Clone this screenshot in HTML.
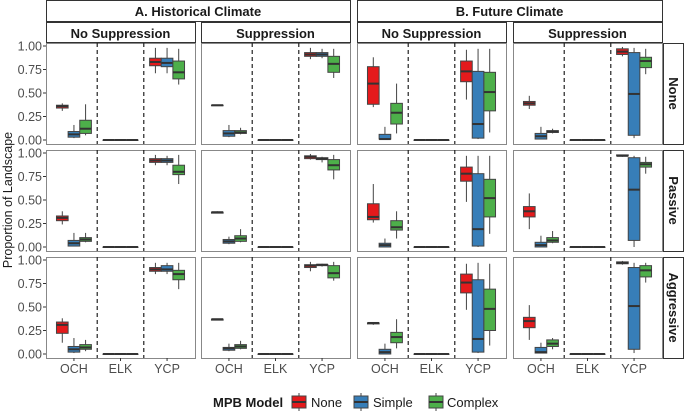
<!DOCTYPE html>
<html><head><meta charset="utf-8"><style>
body{margin:0;background:#fff}
svg{display:block;font-family:"Liberation Sans",sans-serif}
</style></head><body>
<svg id="c" width="685" height="411"></svg>
<script>
const categories=["OCH","ELK","YCP"];
const models=["None","Simple","Complex"];
const modelColors=["#E41A1C","#377EB8","#4DAF4A"];
const climates=["A. Historical Climate","B. Future Climate"];
const suppressions=["No Suppression","Suppression"];
const rowLabels=["None","Passive","Aggressive"];
const yTicks=[0,0.25,0.5,0.75,1];
const yTickLabels=["0.00","0.25","0.50","0.75","1.00"];
const Z=[0,0,0,0,0];
// panel index = row*4 + col ; each: [OCH[red,blue,green], ELK[...], YCP[...]]; stats [min,q1,med,q3,max]
const row1HistNo=[[[0.31,0.34,0.36,0.37,0.39],[0.02,0.03,0.06,0.09,0.16],[0.05,0.07,0.12,0.21,0.38]],[Z,Z,Z],[[0.71,0.79,0.83,0.87,0.98],[0.71,0.78,0.82,0.87,0.98],[0.59,0.65,0.72,0.84,0.97]]];
const row1HistSup=[[[0.37,0.37,0.37,0.37,0.37],[0.03,0.04,0.07,0.10,0.16],[0.06,0.07,0.08,0.10,0.13]],[Z,Z,Z],[[0.86,0.89,0.91,0.93,0.98],[0.87,0.89,0.91,0.93,0.97],[0.66,0.72,0.81,0.89,0.97]]];
const row1FutNo=[[[0.35,0.38,0.60,0.78,0.88],[0.01,0.01,0.01,0.06,0.14],[0.07,0.17,0.29,0.39,0.60]],[Z,Z,Z],[[0.43,0.62,0.73,0.84,0.96],[0.01,0.02,0.17,0.73,0.97],[0.08,0.31,0.51,0.72,0.97]]];
const row1FutSup=[[[0.33,0.37,0.39,0.41,0.47],[0.01,0.01,0.04,0.07,0.14],[0.07,0.08,0.09,0.10,0.12]],[Z,Z,Z],[[0.89,0.91,0.94,0.97,0.99],[0.02,0.05,0.49,0.93,0.98],[0.70,0.77,0.84,0.88,0.97]]];
const row2HistNo=[[[0.24,0.28,0.31,0.33,0.38],[0.01,0.01,0.04,0.07,0.15],[0.05,0.06,0.08,0.10,0.15]],[Z,Z,Z],[[0.87,0.90,0.92,0.94,0.98],[0.87,0.90,0.92,0.94,0.97],[0.67,0.77,0.80,0.87,0.98]]];
const row2HistSup=[[[0.36,0.36,0.37,0.37,0.38],[0.03,0.04,0.06,0.08,0.11],[0.05,0.06,0.09,0.12,0.19]],[Z,Z,Z],[[0.93,0.94,0.96,0.97,0.99],[0.90,0.93,0.94,0.95,0.96],[0.72,0.82,0.87,0.93,0.98]]];
const row2FutNo=[[[0.26,0.29,0.32,0.46,0.67],[0.00,0.00,0.02,0.04,0.09],[0.09,0.18,0.21,0.28,0.38]],[Z,Z,Z],[[0.48,0.70,0.78,0.85,0.97],[0.00,0.01,0.19,0.78,0.97],[0.14,0.32,0.52,0.72,0.97]]];
const row2FutSup=[[[0.19,0.32,0.38,0.43,0.57],[0.00,0.00,0.02,0.05,0.12],[0.04,0.05,0.07,0.10,0.17]],[Z,Z,Z],[[0.96,0.97,0.97,0.98,0.98],[0.00,0.07,0.61,0.95,0.97],[0.78,0.85,0.88,0.90,0.96]]];
const row3HistNo=[[[0.12,0.22,0.31,0.34,0.38],[0.01,0.02,0.05,0.08,0.17],[0.03,0.05,0.07,0.10,0.15]],[Z,Z,Z],[[0.85,0.88,0.90,0.92,0.97],[0.85,0.88,0.90,0.94,0.97],[0.69,0.79,0.85,0.89,0.97]]];
const row3HistSup=[[[0.36,0.36,0.37,0.37,0.37],[0.03,0.04,0.06,0.07,0.11],[0.05,0.06,0.08,0.10,0.14]],[Z,Z,Z],[[0.88,0.92,0.94,0.95,0.98],[0.93,0.94,0.95,0.95,0.96],[0.78,0.81,0.86,0.94,0.98]]];
const row3FutNo=[[[0.31,0.32,0.33,0.33,0.34],[0.00,0.00,0.02,0.05,0.11],[0.06,0.12,0.18,0.23,0.37]],[Z,Z,Z],[[0.47,0.65,0.76,0.85,0.96],[0.01,0.02,0.16,0.79,0.97],[0.09,0.25,0.48,0.69,0.96]]];
const row3FutSup=[[[0.15,0.28,0.35,0.39,0.52],[0.01,0.01,0.02,0.07,0.12],[0.05,0.08,0.11,0.15,0.17]],[Z,Z,Z],[[0.95,0.96,0.97,0.98,0.99],[0.01,0.05,0.51,0.92,0.97],[0.76,0.82,0.89,0.94,0.97]]];
const panels=[row1HistNo,row1HistSup,row1FutNo,row1FutSup,row2HistNo,row2HistSup,row2FutNo,row2FutSup,row3HistNo,row3HistSup,row3FutNo,row3FutSup];

const NS="http://www.w3.org/2000/svg";
const svg=document.getElementById("c");
function mk(tag,attrs,parent,text){const e=document.createElementNS(NS,tag);for(const k in attrs)e.setAttribute(k,attrs[k]);if(text!==undefined)e.textContent=text;(parent||svg).appendChild(e);return e;}
const colX=[46,201,357,513], PW=149;
const rowY=[43,150,257], PH=101;
const yScale=(r,v)=>rowY[r]+97-v*94;
const xScale=(c,u)=>colX[c]+(u+0.6)*(PW/3.2);

// strips
for(let i=0;i<2;i++){
  const x0=colX[i*2], x1=colX[i*2+1]+PW;
  const g=mk("g",{});
  
  
  mk("rect",{x:x0+0.5,y:0.5,width:x1-x0,height:21,fill:"#fff",stroke:"#333","stroke-width":1},g);
  mk("text",{x:(x0+x1)/2,y:16,"text-anchor":"middle","font-size":13,"font-weight":"bold",fill:"#1a1a1a"},g,climates[i]);
}
for(let c=0;c<4;c++){
  const g=mk("g",{});
  
  
  mk("rect",{x:colX[c]+0.5,y:22.5,width:PW,height:20,fill:"#fff",stroke:"#333","stroke-width":1},g);
  mk("text",{x:colX[c]+PW/2,y:38,"text-anchor":"middle","font-size":13,"font-weight":"bold",fill:"#1a1a1a"},g,suppressions[c%2]);
}
for(let r=0;r<3;r++){
  const g=mk("g",{});
  
  
  mk("rect",{x:663.5,y:rowY[r]+0.5,width:20,height:PH,fill:"#fff",stroke:"#333","stroke-width":1},g);
  const cy=rowY[r]+PH/2, cx=669;
  mk("text",{x:cx,y:cy,"text-anchor":"middle","font-size":13,"font-weight":"bold",fill:"#1a1a1a",transform:`rotate(90 ${cx} ${cy})`},g,rowLabels[r]);
}
// panels
for(let r=0;r<3;r++)for(let c=0;c<4;c++){
  const g=mk("g",{});
  
  
  mk("rect",{x:colX[c]+0.5,y:rowY[r]+0.5,width:PW,height:PH,fill:"#fff",stroke:"#888","stroke-width":1},g);
  [1.5,2.5].forEach(u=>{const e=mk("line",{x1:xScale(c,u-1),x2:xScale(c,u-1),y1:rowY[r],y2:rowY[r]+PH,stroke:"#222","stroke-dasharray":"4,3","stroke-width":1.2},g);
    
    });
  const data=panels[r*4+c];
  const bw=PW/3.2*0.25;
  for(let k=0;k<3;k++)for(let m=0;m<3;m++){
    const s=data[k][m];
    const cx=xScale(c,k)+(m-1)*bw;
    const b=mk("g",{},g);
    
    
    mk("line",{x1:cx,x2:cx,y1:yScale(r,s[4]),y2:yScale(r,s[0]),stroke:"#444","stroke-width":1},b);
    mk("rect",{x:cx-bw/2,y:yScale(r,s[3]),width:bw,height:Math.max(yScale(r,s[1])-yScale(r,s[3]),0.5),fill:modelColors[m],stroke:"#444","stroke-width":1},b);
    mk("line",{x1:cx-bw/2,x2:cx+bw/2,y1:yScale(r,s[2]),y2:yScale(r,s[2]),stroke:"#333","stroke-width":2},b);
  }
  if(c===0){
    yTicks.forEach((t,i)=>{
      const y=yScale(r,t);
      mk("line",{x1:colX[0]-3,x2:colX[0],y1:y,y2:y,stroke:"#333"},g);
      const tl=mk("text",{x:colX[0]-4,y:y+4.5,"text-anchor":"end","font-size":12.5,fill:"#4d4d4d"},g,yTickLabels[i]);
      
      
    });
  }
  if(r===2){
    categories.forEach((cat,k)=>{
      const x=xScale(c,k);
      mk("line",{x1:x,x2:x,y1:rowY[2]+PH,y2:rowY[2]+PH+3,stroke:"#333"},g);
      const tl=mk("text",{x:x,y:373,"text-anchor":"middle","font-size":12.5,fill:"#4d4d4d"},g,cat);
      
      
    });
  }
}
const yt=mk("text",{x:12,y:200,"text-anchor":"middle","font-size":12.5,fill:"#1a1a1a",transform:"rotate(-90 12 200)"},svg,"Proportion of Landscape");


// legend
const lg=mk("g",{});


mk("text",{x:213,y:407,"font-size":13,"font-weight":"bold",fill:"#1a1a1a"},lg,"MPB Model");
const keyX=[292,354,429], labX=[311,373,447];
models.forEach((m,i)=>{
  const e=mk("g",{},lg);
  
  
  mk("line",{x1:keyX[i]+7,x2:keyX[i]+7,y1:393,y2:411,stroke:"#444"},e);
  mk("rect",{x:keyX[i],y:396,width:14,height:12,fill:modelColors[i],stroke:"#444"},e);
  mk("line",{x1:keyX[i],x2:keyX[i]+14,y1:402,y2:402,stroke:"#333","stroke-width":2},e);
  mk("text",{x:labX[i],y:407,"font-size":13,fill:"#1a1a1a"},e,m);
});
</script>
</body></html>
